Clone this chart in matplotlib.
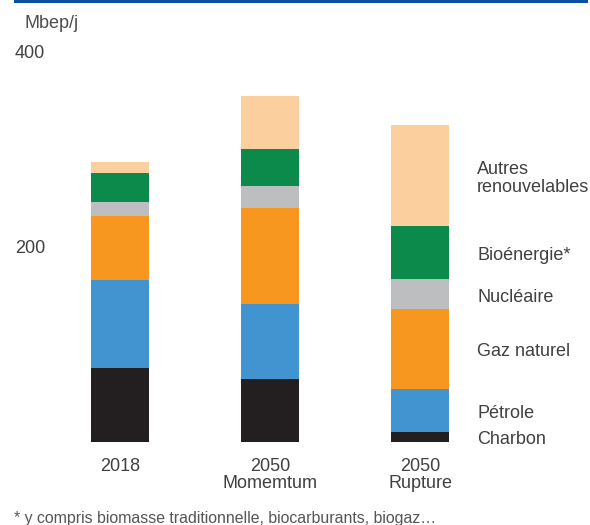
import matplotlib
matplotlib.use("Agg")
import matplotlib.pyplot as plt
import numpy as np

# Mbep/j par source d'énergie
scenarios = ["2018", "2050\nMomemtum", "2050\nRupture"]
sources = ["Charbon", "Pétrole", "Gaz naturel", "Nucléaire", "Bioénergie*",
           "Autres\nrenouvelables"]
charbon = [76, 65, 10.6]
petrole = [90, 76.5, 43.8]
gaz = [66, 98.5, 82]
nucleaire = [14, 22.3, 30.5]
bioenergie = [30, 38, 54.3]
autres = [11, 54.7, 104.2]

colors = ["#231f20", "#4194d0", "#f7971f", "#bcbec0", "#0c8a4b", "#fcd09e"]
TXT = "#404040"

plt.rcParams["font.family"] = ["Liberation Sans", "DejaVu Sans"]

fig = plt.figure(figsize=(5.9, 5.25), dpi=100)
# axes placed in pixels: x 60..590, y 40..442
ax = fig.add_axes([60 / 590, 83 / 525, 530 / 590, 402 / 525])

x = np.arange(len(scenarios))
series = [charbon, petrole, gaz, nucleaire, bioenergie, autres]
bottom = np.zeros(len(scenarios))
for vals, col in zip(series, colors):
    ax.bar(x, vals, width=0.39, bottom=bottom, color=col, linewidth=0)
    bottom += np.array(vals)

ax.set_xlim(-0.4, 3.133)
ax.set_ylim(0, 412.3)
for sp in ax.spines.values():
    sp.set_visible(False)

ax.set_yticks([200, 400])
ax.set_yticklabels(["200", "400"], fontsize=13, color=TXT)
ax.set_xticks(x)
ax.set_xticklabels(scenarios, fontsize=13, color=TXT, linespacing=1.0)
ax.tick_params(axis="y", length=0, pad=10.8)
ax.tick_params(axis="x", length=0, pad=11.5)

# labels of the last bar, centred on each segment
last = np.array([s[-1] for s in series])
mids = np.cumsum(last) - last / 2
for name, m in zip(sources, mids):
    ax.text(2.38, m - 3, name, fontsize=13, color=TXT, va="center", ha="left",
            linespacing=1.05)

fig.text(24 / 590, 1 - 23 / 525, "Mbep/j", fontsize=13, color="#4d4d4d",
         va="center", ha="left")
fig.text(14 / 590, 1 - 518 / 525,
         "* y compris biomasse traditionnelle, biocarburants, biogaz…",
         fontsize=11.4, color="#555555", va="center", ha="left")

# blue rule at the top
fig.add_artist(plt.Rectangle((14 / 590, 1 - 3 / 525), 574 / 590, 3 / 525,
                             transform=fig.transFigure, color="#0b4ea2", lw=0))

fig.savefig("out.png", dpi=100)
